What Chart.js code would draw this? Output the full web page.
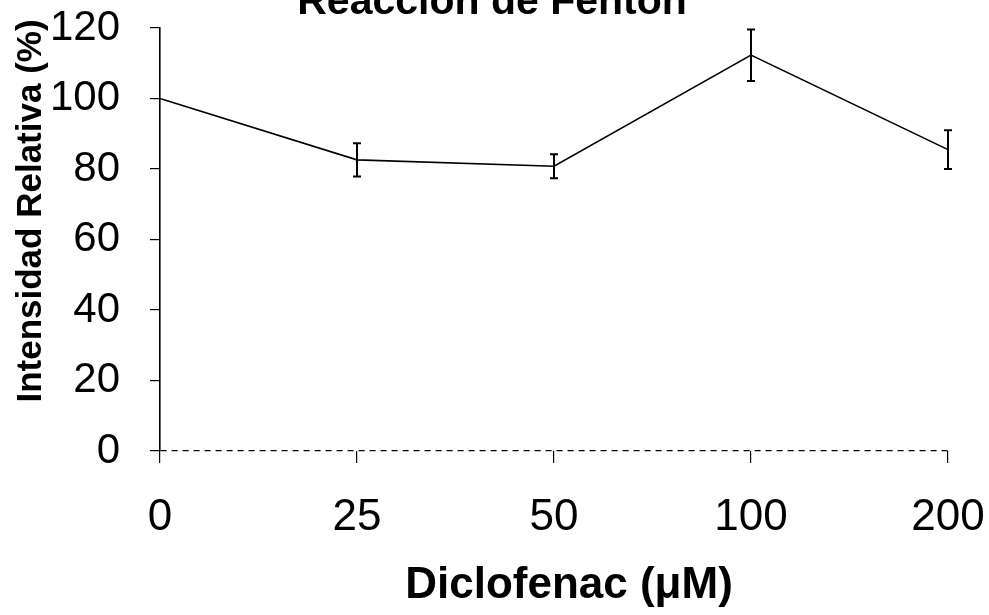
<!DOCTYPE html>
<html>
<head>
<meta charset="utf-8">
<script src="https://cdn.jsdelivr.net/npm/chart.js@4.4.1/dist/chart.umd.min.js"></script>
<style>
    html, body { margin: 0; padding: 0; background: #fff; }
    #wrap { position: relative; width: 989px; height: 615px; }
</style>
</head>
<body>
<div id="wrap"><canvas id="chart-fenton"></canvas></div>
<script>
// Data
const categories = ['0', '25', '50', '100', '200'];
const intensity = [100, 82.6, 80.8, 112.3, 85.5];
const errorSd = [0, 4.7, 3.4, 7.3, 5.5];
const yTicks = [0, 20, 40, 60, 80, 100, 120];

const chartTitle = 'Reacción de Fenton';
const xTitle = 'Diclofenac (μM)';
const yTitle = 'Intensidad Relativa (%)';

const FONT = "'Liberation Sans', Arial, sans-serif";

/**
 * Error bars drawn from errorSd through the scales
 */
const errorBars = {
    id: 'errorBars',
    afterDatasetsDraw(chart) {
        const ctx = chart.ctx;
        const xs = chart.scales.x;
        const ys = chart.scales.y;
        ctx.save();
        ctx.strokeStyle = '#000';
        ctx.lineWidth = 2;
        intensity.forEach((v, i) => {
            if (!errorSd[i]) return;
            const x = xs.getPixelForValue(i);
            const top = ys.getPixelForValue(v + errorSd[i]);
            const bot = ys.getPixelForValue(v - errorSd[i]);
            ctx.beginPath();
            ctx.moveTo(x, top);
            ctx.lineTo(x, bot);
            ctx.moveTo(x - 4, top);
            ctx.lineTo(x + 4, top);
            ctx.moveTo(x - 4, bot);
            ctx.lineTo(x + 4, bot);
            ctx.stroke();
        });
        ctx.restore();
    }
};

/**
 * Titles placed where the scan has them
 */
const titles = {
    id: 'titles',
    afterDraw(chart) {
        const ctx = chart.ctx;
        ctx.save();
        ctx.fillStyle = '#000';
        ctx.textAlign = 'center';
        ctx.textBaseline = 'alphabetic';

        ctx.font = 'bold 41px ' + FONT;
        ctx.fillText(chartTitle, 492, 14);

        ctx.font = 'bold 44px ' + FONT;
        ctx.fillText(xTitle, 569, 598);

        ctx.translate(41, 211);
        ctx.rotate(-Math.PI / 2);
        ctx.font = 'bold 35px ' + FONT;
        ctx.fillText(yTitle, 0, 0);
        ctx.restore();
    }
};

const config = {
    type: 'line',
    data: {
        labels: categories,
        datasets: [{
            data: intensity,
            borderColor: '#000',
            borderWidth: 1.6,
            pointRadius: 0,
            tension: 0,
            fill: false
        }]
    },
    options: {
        responsive: false,
        animation: false,
        layout: { padding: { top: 28, right: 41, left: 0, bottom: 0 } },
        plugins: {
            legend: { display: false },
            tooltip: { enabled: false }
        },
        scales: {
            x: {
                offset: false,
                border: { display: false },
                grid: { drawOnChartArea: false, drawTicks: true, tickLength: 12, color: '#000', lineWidth: 1.2 },
                ticks: { color: '#000', padding: 28, maxRotation: 0, font: { family: FONT, size: 44 } },
                afterFit(scale) {
                    scale.height = 164;
                    scale.paddingLeft = 0;
                    scale.paddingRight = 0;
                }
            },
            y: {
                min: 0,
                max: 120,
                border: { color: '#000', width: 1.6, dash: [6, 5] },
                grid: {
                    drawOnChartArea: true,
                    drawTicks: true,
                    tickLength: 10,
                    lineWidth: 1.2,
                    tickColor: '#000',
                    // only the zero line runs across the plot, dashed
                    color: c => (c.tick && c.tick.value === 0) ? '#000' : 'rgba(0,0,0,0)'
                },
                afterBuildTicks(scale) { scale.ticks = yTicks.map(v => ({ value: v })); },
                ticks: { color: '#000', padding: 30, font: { family: FONT, size: 42 } },
                afterFit(scale) {
                    scale.width = 160;
                    scale.paddingTop = 0;
                    scale.paddingBottom = 0;
                }
            }
        }
    },
    plugins: [errorBars, titles]
};

const canvas = document.getElementById('chart-fenton');
canvas.width = 989;
canvas.height = 615;
window.fentonChart = new Chart(canvas, config);
</script>
</body>
</html>
